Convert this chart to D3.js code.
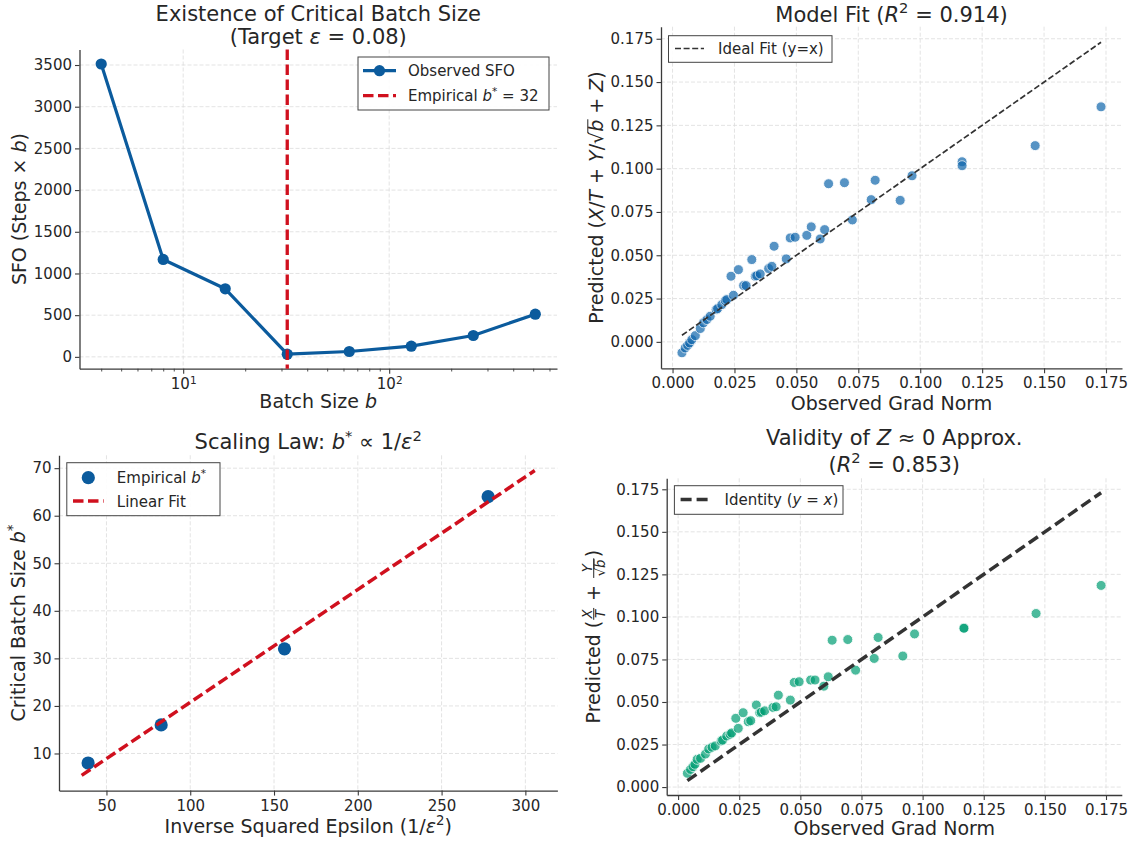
<!DOCTYPE html>
<html><head><meta charset="utf-8">
<script src="https://cdn.jsdelivr.net/npm/d3@7"></script>
<style>
body{margin:0;background:#fff;}
svg{font-family:"DejaVu Sans",sans-serif;display:block;}
text{white-space:pre;}
</style></head><body>
<svg id="c" width="1133" height="842"></svg>
<script>
// ---------------- DATA ----------------
// Panel 1: SFO vs batch size
const batchSizes = [4, 8, 16, 32, 64, 128, 256, 512];
const sfoValues = [3512, 1168, 816, 32, 64, 128, 256, 512];
const empiricalCritical = 32;
const sfoTicks = [0, 500, 1000, 1500, 2000, 2500, 3000, 3500];
const batchMajorTicks = [10, 100];
const batchMinorTicks = [4, 5, 6, 7, 8, 9, 20, 30, 40, 50, 60, 70, 80, 90, 200, 300, 400, 500, 600];

// Panel 3: scaling law
const invSqEps = [39.06, 82.64, 156.25, 277.78];
const criticalB = [8, 16, 32, 64];
const fitX = [35.2, 305.6];
const fitY = [5.4, 69.5];
const invTicks = [50, 100, 150, 200, 250, 300];
const critTicks = [10, 20, 30, 40, 50, 60, 70];

// Panels 2 & 4: observed vs predicted grad norm
const observedNorm = [0.0038, 0.0051, 0.0061, 0.0069, 0.0078, 0.0092, 0.0112, 0.0125, 0.0139, 0.0152,
  0.0176, 0.0182, 0.0199, 0.0213, 0.0219, 0.0236, 0.0246, 0.0266, 0.0287, 0.0297,
  0.0320, 0.0334, 0.0340, 0.0354, 0.0388, 0.0401, 0.0410, 0.0459, 0.0475, 0.0495,
  0.0542, 0.0560, 0.0596, 0.0614, 0.0630, 0.0694, 0.0726, 0.0802, 0.0818, 0.0919,
  0.0967, 0.1169, 0.1169, 0.1464, 0.1730];
const predictedFull = [-0.0063, -0.0035, -0.0020, -0.0006, 0.0013, 0.0036, 0.0077, 0.0110, 0.0129, 0.0148,
  0.0186, 0.0192, 0.0215, 0.0238, 0.0244, 0.0379, 0.0269, 0.0417, 0.0325, 0.0325,
  0.0475, 0.0379, 0.0382, 0.0392, 0.0423, 0.0436, 0.0552, 0.0479, 0.0600, 0.0604,
  0.0615, 0.0664, 0.0594, 0.0648, 0.0913, 0.0919, 0.0704, 0.0821, 0.0933, 0.0817,
  0.0959, 0.1040, 0.1017, 0.1133, 0.1357];
const predictedApprox = [0.0081, 0.0104, 0.0120, 0.0134, 0.0163, 0.0169, 0.0194, 0.0224, 0.0234, 0.0242,
  0.0271, 0.0276, 0.0300, 0.0310, 0.0318, 0.0404, 0.0345, 0.0437, 0.0384, 0.0390,
  0.0482, 0.0437, 0.0440, 0.0448, 0.0468, 0.0472, 0.0540, 0.0511, 0.0615, 0.0619,
  0.0629, 0.0629, 0.0593, 0.0648, 0.0863, 0.0867, 0.0687, 0.0756, 0.0879, 0.0770,
  0.0900, 0.0935, 0.0933, 0.1020, 0.1185];
const normTicks = [0, 0.025, 0.05, 0.075, 0.1, 0.125, 0.15, 0.175];

// ---------------- STYLE ----------------
const INK = '#262626', SPINE = '#3a3a3a', GRID = '#dcdcdc';
const BLUE = '#0b5b9d', RED = '#d0101e';
const SC_BLUE = '#1066ac', SC_GREEN = '#009E73';
const TICK_FS = 15, LABEL_FS = 19, TITLE_FS = 21, LEG_FS = 15;

const svg = d3.select('#c');

function padded(ext) { const d = (ext[1] - ext[0]) * 0.05; return [ext[0] - d, ext[1] + d]; }

// rich text: parts [{t, i, sup, over, frac:{num,den}}]
function rich(parent, parts, fs, anchor) {
  const g = parent.append('g');
  const inner = g.append('g');
  function seg(container, p, x0, size) {
    const t = container.append('text')
      .attr('x', x0).attr('y', p.sup ? -size * 0.40 : 0)
      .attr('font-size', p.sup ? size * 0.7 : size)
      .attr('font-style', p.i ? 'italic' : 'normal')
      .attr('fill', INK).text(p.t);
    const w = t.node().getComputedTextLength();
    if (p.over) container.append('line').attr('x1', x0 - 1).attr('x2', x0 + w + 0.5)
      .attr('y1', -size * 0.80).attr('y2', -size * 0.80).attr('stroke', INK).attr('stroke-width', 1);
    return w;
  }
  let x = 0;
  for (const p of parts) {
    if (p.frac) {
      const s = fs * 0.7;
      const gn = inner.append('g'), gd = inner.append('g');
      let wn = 0, wd = 0;
      p.frac.num.forEach(q => wn += seg(gn, q, wn, s));
      p.frac.den.forEach(q => wd += seg(gd, q, wd, s));
      const w = Math.max(wn, wd) + fs * 0.25;
      const ay = -fs * 0.33;
      gn.attr('transform', `translate(${x + (w - wn) / 2},${ay - fs * 0.1})`);
      gd.attr('transform', `translate(${x + (w - wd) / 2},${ay + s * 0.82})`);
      inner.append('line').attr('x1', x + 1).attr('x2', x + w - 1).attr('y1', ay).attr('y2', ay)
        .attr('stroke', INK).attr('stroke-width', 1);
      x += w;
    } else x += seg(inner, p, x, fs);
  }
  const shift = anchor === 'start' ? 0 : anchor === 'end' ? -x : -x / 2;
  inner.attr('transform', `translate(${shift},0)`);
  return g;
}

function styleAxis(sel) {
  sel.select('.domain').attr('stroke', SPINE).attr('stroke-width', 1.3);
  sel.selectAll('.tick line').attr('stroke', SPINE).attr('stroke-width', 1.1);
  sel.selectAll('.tick text').attr('fill', INK).attr('font-size', TICK_FS).attr('font-family', '"DejaVu Sans"');
}

function frame(L, T, R, B) {
  return { L, T, R, B, w: R - L, h: B - T, g: svg.append('g').attr('transform', `translate(${L},${T})`) };
}

function grid(f, x, y, xt, yt) {
  const gg = f.g.append('g');
  gg.selectAll('.gx').data(xt).join('line').attr('x1', d => x(d)).attr('x2', d => x(d))
    .attr('y1', 0).attr('y2', f.h);
  gg.selectAll('.gy').data(yt).join('line').attr('y1', d => y(d)).attr('y2', d => y(d))
    .attr('x1', 0).attr('x2', f.w);
  gg.selectAll('line').attr('stroke', GRID).attr('stroke-width', 0.8).attr('stroke-dasharray', '4,2');
}

function axes(f, x, y, xt, yt, xfmt, yfmt) {
  const ax = f.g.append('g').attr('transform', `translate(0,${f.h})`)
    .call(d3.axisBottom(x).tickValues(xt).tickFormat(xfmt).tickSize(5).tickPadding(4.5).tickSizeOuter(0));
  styleAxis(ax);
  const ay = f.g.append('g')
    .call(d3.axisLeft(y).tickValues(yt).tickFormat(yfmt).tickSize(4.5).tickPadding(3).tickSizeOuter(0));
  styleAxis(ay);
  return { ax, ay };
}

function legendBox(x0, y0, x1, y1) {
  svg.append('rect').attr('x', x0).attr('y', y0).attr('width', x1 - x0).attr('height', y1 - y0)
    .attr('fill', '#fff').attr('fill-opacity', 0.9).attr('stroke', '#444').attr('stroke-width', 1);
}

function placeLabel(parts, fs, x, y, rot) {
  const g = rich(svg, parts, fs, 'middle');
  g.attr('transform', `translate(${x},${y})` + (rot ? ' rotate(-90)' : ''));
  return g;
}

// ---------------- PANEL 1 ----------------
{
  const f = frame(79.5, 49.5, 557, 368.7);
  const lx = padded(d3.extent(batchSizes).map(Math.log10));
  const x = d3.scaleLog().domain([Math.pow(10, lx[0]), Math.pow(10, lx[1])]).range([0, f.w]);
  const y = d3.scaleLinear().domain(padded(d3.extent(sfoValues))).range([f.h, 0]);
  grid(f, x, y, batchMajorTicks, sfoTicks);
  const { ax } = axes(f, x, y, batchMajorTicks, sfoTicks, () => '', d3.format('d'));
  ax.selectAll('.tick text').each(function (d) {
    const t = d3.select(this);
    t.append('tspan').text('10');
    t.append('tspan').attr('dy', '-0.45em').attr('font-size', TICK_FS * 0.7).text(String(Math.round(Math.log10(d))));
  });
  const minor = f.g.append('g').attr('transform', `translate(0,${f.h})`)
    .call(d3.axisBottom(x).tickValues(batchMinorTicks).tickFormat('').tickSize(2.8).tickSizeOuter(0));
  minor.select('.domain').remove();
  minor.selectAll('.tick line').attr('stroke', SPINE).attr('stroke-width', 0.9);

  const line = d3.line().x((d, i) => x(batchSizes[i])).y(d => y(d));
  f.g.append('path').datum(sfoValues).attr('d', line).attr('fill', 'none')
    .attr('stroke', BLUE).attr('stroke-width', 3.2).attr('stroke-linejoin', 'round');
  f.g.selectAll('.pt').data(sfoValues).join('circle').attr('cx', (d, i) => x(batchSizes[i])).attr('cy', d => y(d))
    .attr('r', 5.6).attr('fill', BLUE);
  f.g.append('line').attr('x1', x(empiricalCritical)).attr('x2', x(empiricalCritical)).attr('y1', 0).attr('y2', f.h)
    .attr('stroke', RED).attr('stroke-width', 3.3).attr('stroke-dasharray', '10.5,4.5');

  const g1 = rich(svg, [{ t: 'Existence of Critical Batch Size' }], TITLE_FS, 'middle');
  g1.attr('transform', `translate(${(f.L + f.R) / 2},20.5)`);
  const g2 = rich(svg, [{ t: '(Target ' }, { t: 'ε', i: true }, { t: ' = 0.08)' }], TITLE_FS, 'middle');
  g2.attr('transform', `translate(${(f.L + f.R) / 2},44)`);
  placeLabel([{ t: 'Batch Size ' }, { t: 'b', i: true }], LABEL_FS, (f.L + f.R) / 2, 408, false);
  placeLabel([{ t: 'SFO (Steps × ' }, { t: 'b', i: true }, { t: ')' }], LABEL_FS, 26, (f.T + f.B) / 2, true);

  legendBox(358, 57, 549, 110);
  svg.append('line').attr('x1', 363).attr('x2', 396).attr('y1', 70.7).attr('y2', 70.7).attr('stroke', BLUE).attr('stroke-width', 3.2);
  svg.append('circle').attr('cx', 379.5).attr('cy', 70.7).attr('r', 5.6).attr('fill', BLUE);
  rich(svg, [{ t: 'Observed SFO' }], LEG_FS, 'start').attr('transform', 'translate(408,76.2)');
  svg.append('line').attr('x1', 363).attr('x2', 396).attr('y1', 95.7).attr('y2', 95.7).attr('stroke', RED)
    .attr('stroke-width', 3.3).attr('stroke-dasharray', '10.5,4.5');
  rich(svg, [{ t: 'Empirical ' }, { t: 'b', i: true }, { t: '*', sup: true }, { t: ' = 32' }], LEG_FS, 'start')
    .attr('transform', 'translate(408,101.2)');
}

// ---------------- PANEL 2 ----------------
function scatterPanel(f, preds, color, lineW, dash) {
  const x = d3.scaleLinear().domain(padded(d3.extent(observedNorm))).range([0, f.w]);
  const idExt = d3.extent(observedNorm);
  const y = d3.scaleLinear().domain(padded(d3.extent(preds.concat(idExt)))).range([f.h, 0]);
  grid(f, x, y, normTicks, normTicks);
  axes(f, x, y, normTicks, normTicks, d3.format('.3f'), d3.format('.3f'));
  f.g.selectAll('.sc').data(observedNorm).join('circle')
    .attr('cx', d => x(d)).attr('cy', (d, i) => y(preds[i])).attr('r', 5)
    .attr('fill', color).attr('stroke', '#fff').attr('stroke-width', 0.9).attr('opacity', 0.7);
  f.g.append('line').attr('x1', x(idExt[0])).attr('y1', y(idExt[0])).attr('x2', x(idExt[1])).attr('y2', y(idExt[1]))
    .attr('stroke', '#333').attr('stroke-width', lineW).attr('stroke-dasharray', dash);
}
{
  const f = frame(661, 26.7, 1122, 368.3);
  scatterPanel(f, predictedFull, SC_BLUE, 1.7, '6,2.6');
  rich(svg, [{ t: 'Model Fit (' }, { t: 'R', i: true }, { t: '2', sup: true }, { t: ' = 0.914)' }], TITLE_FS, 'middle')
    .attr('transform', `translate(${(f.L + f.R) / 2},21.5)`);
  placeLabel([{ t: 'Observed Grad Norm' }], LABEL_FS, (f.L + f.R) / 2, 409.5, false);
  placeLabel([{ t: 'Predicted (' }, { t: 'X', i: true }, { t: '/' }, { t: 'T', i: true }, { t: ' + ' },
    { t: 'Y', i: true }, { t: '/√' }, { t: 'b', i: true, over: true }, { t: ' + ' }, { t: 'Z', i: true }, { t: ')' }],
    LABEL_FS, 603, (f.T + f.B) / 2, true);
  legendBox(668.5, 35.7, 832, 62.3);
  svg.append('line').attr('x1', 675).attr('x2', 704).attr('y1', 48.5).attr('y2', 48.5).attr('stroke', '#333')
    .attr('stroke-width', 1.7).attr('stroke-dasharray', '6,2.6');
  rich(svg, [{ t: 'Ideal Fit (y=x)' }], LEG_FS, 'start').attr('transform', 'translate(718,54)');
}

// ---------------- PANEL 3 ----------------
{
  const f = frame(59, 455.3, 557.4, 790.6);
  const x = d3.scaleLinear().domain(padded(d3.extent(invSqEps.concat(fitX)))).range([0, f.w]);
  const y = d3.scaleLinear().domain(padded(d3.extent(criticalB.concat(fitY)))).range([f.h, 0]);
  grid(f, x, y, invTicks, critTicks);
  axes(f, x, y, invTicks, critTicks, d3.format('d'), d3.format('d'));
  f.g.selectAll('.pt').data(criticalB).join('circle').attr('cx', (d, i) => x(invSqEps[i])).attr('cy', d => y(d))
    .attr('r', 6.6).attr('fill', BLUE);
  f.g.append('line').attr('x1', x(fitX[0])).attr('y1', y(fitY[0])).attr('x2', x(fitX[1])).attr('y2', y(fitY[1]))
    .attr('stroke', RED).attr('stroke-width', 3.5).attr('stroke-dasharray', '10.5,4.5');
  rich(svg, [{ t: 'Scaling Law: ' }, { t: 'b', i: true }, { t: '*', sup: true }, { t: ' ∝ 1/' }, { t: 'ε', i: true }, { t: '2', sup: true }],
    TITLE_FS, 'middle').attr('transform', `translate(${(f.L + f.R) / 2},449)`);
  placeLabel([{ t: 'Inverse Squared Epsilon (1/' }, { t: 'ε', i: true }, { t: '2', sup: true }, { t: ')' }], LABEL_FS, (f.L + f.R) / 2, 833, false);
  placeLabel([{ t: 'Critical Batch Size ' }, { t: 'b', i: true }, { t: '*', sup: true }], LABEL_FS, 25, (f.T + f.B) / 2, true);
  legendBox(66.8, 462.7, 220, 515.7);
  svg.append('circle').attr('cx', 88.3).attr('cy', 477.7).attr('r', 6.6).attr('fill', BLUE);
  rich(svg, [{ t: 'Empirical ' }, { t: 'b', i: true }, { t: '*', sup: true }], LEG_FS, 'start').attr('transform', 'translate(116.8,483.2)');
  svg.append('line').attr('x1', 73).attr('x2', 103.6).attr('y1', 501).attr('y2', 501).attr('stroke', RED)
    .attr('stroke-width', 3.5).attr('stroke-dasharray', '10.5,4.5');
  rich(svg, [{ t: 'Linear Fit' }], LEG_FS, 'start').attr('transform', 'translate(116.8,506.5)');
}

// ---------------- PANEL 4 ----------------
{
  const f = frame(666.7, 478.3, 1121.8, 795);
  scatterPanel(f, predictedApprox, SC_GREEN, 3.5, '11,5');
  rich(svg, [{ t: 'Validity of ' }, { t: 'Z', i: true }, { t: ' ≈ 0 Approx.' }], TITLE_FS, 'middle')
    .attr('transform', `translate(${(f.L + f.R) / 2},445)`);
  rich(svg, [{ t: '(' }, { t: 'R', i: true }, { t: '2', sup: true }, { t: ' = 0.853)' }], TITLE_FS, 'middle')
    .attr('transform', `translate(${(f.L + f.R) / 2},471.5)`);
  placeLabel([{ t: 'Observed Grad Norm' }], LABEL_FS, (f.L + f.R) / 2, 835, false);
  placeLabel([{ t: 'Predicted (' }, { frac: { num: [{ t: 'X', i: true }], den: [{ t: 'T', i: true }] } }, { t: ' + ' },
    { frac: { num: [{ t: 'Y', i: true }], den: [{ t: '√' }, { t: 'b', i: true, over: true }] } }, { t: ')' }],
    LABEL_FS, 600, (f.T + f.B) / 2, true);
  legendBox(674.4, 485.7, 843, 514.3);
  svg.append('line').attr('x1', 680.6).attr('x2', 710.6).attr('y1', 499.5).attr('y2', 499.5).attr('stroke', '#333')
    .attr('stroke-width', 3.5).attr('stroke-dasharray', '11,5');
  rich(svg, [{ t: 'Identity (' }, { t: 'y', i: true }, { t: ' = ' }, { t: 'x', i: true }, { t: ')' }], LEG_FS, 'start')
    .attr('transform', 'translate(724.5,505)');
}
</script>
</body></html>
